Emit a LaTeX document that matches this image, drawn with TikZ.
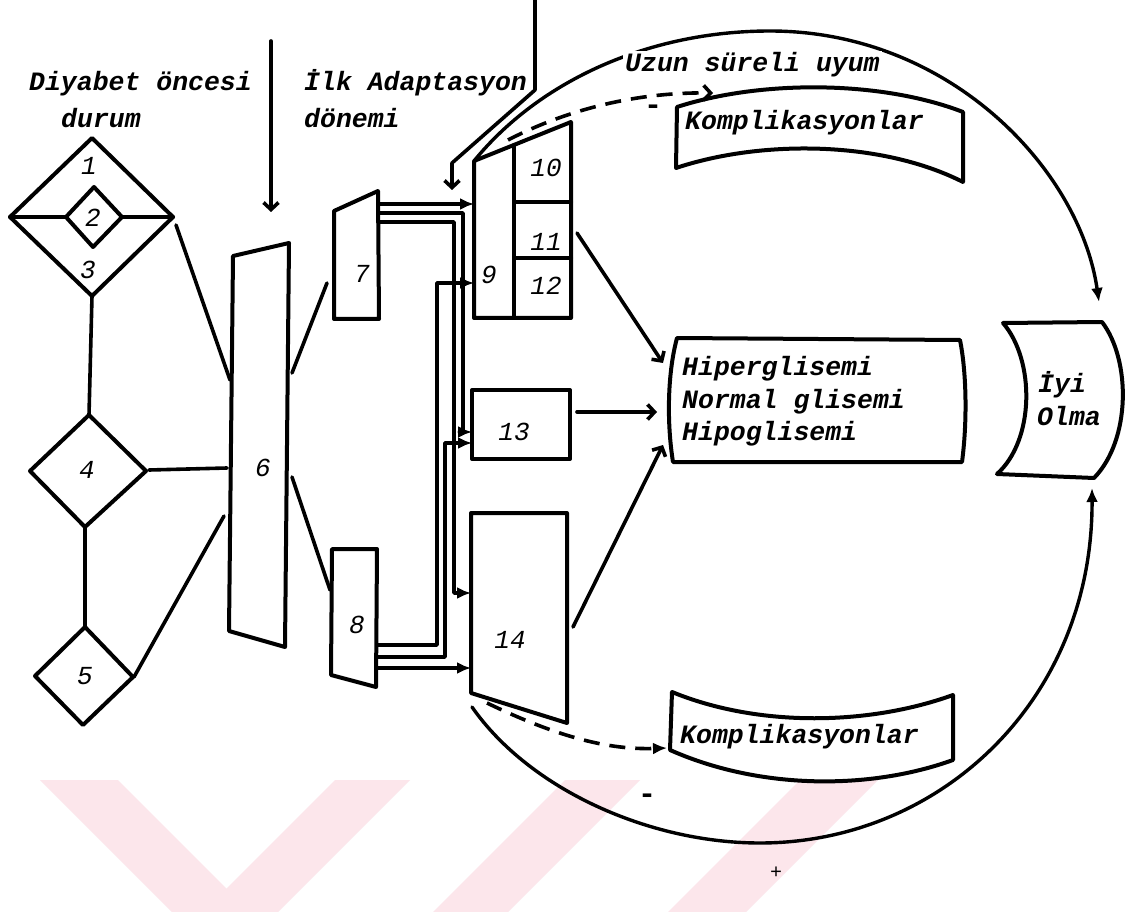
\documentclass[tikz,border=0pt]{standalone}
\usepackage{fontspec}
\setmainfont{Liberation Mono}
\usetikzlibrary{arrows.meta}
\definecolor{wm}{RGB}{252,230,235}
\begin{document}
\begin{tikzpicture}[x=1pt,y=-1pt,
  shp/.style={line width=4pt, line join=round, line cap=round},
  conn/.style={line width=3.6pt, line join=round, line cap=round},
  bigarc/.style={line width=3.4pt, line cap=round},
  fa/.style={-{Latex[length=14pt,width=12pt]}},
  oa/.style={-{Straight Barb[length=7pt,width=15pt]}},
  dsh/.style={line width=3.6pt, dash pattern=on 16pt off 10pt},
  lbl/.style={font=\fontsize{26.5}{33}\selectfont\bfseries\itshape, inner sep=0pt, anchor=base west},
  num/.style={font=\fontsize{26}{30}\selectfont\itshape, inner sep=0pt},
]
\useasboundingbox (0,0) rectangle (1136,912);
\fill[white] (0,0) rectangle (1136,912);
% watermark
\fill[wm] (40,780) -- (118,780) -- (250,912) -- (172,912) -- cycle;
\fill[wm] (335,780) -- (410,780) -- (278,912) -- (203,912) -- cycle;
\fill[wm] (565,780) -- (640,780) -- (508,912) -- (433,912) -- cycle;
\fill[wm] (800,780) -- (878,780) -- (746,912) -- (668,912) -- cycle;

% ---------- coordinates ----------
\coordinate (d1t) at (92,138); \coordinate (d1l) at (10,217);
\coordinate (d1r) at (173,217); \coordinate (d1b) at (92,296);
\coordinate (d2t) at (94,187); \coordinate (d2l) at (66,217);
\coordinate (d2r) at (122,217); \coordinate (d2b) at (93,247);
\coordinate (d4t) at (89,415); \coordinate (d4l) at (30,471);
\coordinate (d4r) at (146,471); \coordinate (d4b) at (85,527);
\coordinate (d5t) at (85,627); \coordinate (d5l) at (35,676);
\coordinate (d5r) at (133,677); \coordinate (d5b) at (83,725);

% ---------- diamonds ----------
\draw[shp] (d1t) -- (d1r) -- (d1b) -- (d1l) -- cycle;
\draw[shp] (d2t) -- (d2r) -- (d2b) -- (d2l) -- cycle;
\draw[shp] (d1l) -- (d2l) (d2r) -- (d1r);
\draw[shp] (d4t) -- (d4r) -- (d4b) -- (d4l) -- cycle;
\draw[shp] (d5t) -- (d5r) -- (d5b) -- (d5l) -- cycle;
\draw[conn] (d1b) -- (d4t);
\draw[conn] (d4b) -- (d5t);
\node[num] (n1) at (89,166) {1};
\node[num] (n2) at (93,218) {2};
\node[num] (n3) at (88,270) {3};
\node[num] (n4) at (87,470) {4};
\node[num] (n5) at (85,676) {5};

% ---------- box 6 ----------
\draw[shp] (233,256) -- (289,243) -- (285,647) -- (229,631) -- cycle;
\node[num] (n6) at (263,468) {6};
\coordinate (c1a) at (176,225); \coordinate (c1b) at (230,380);
\coordinate (c4a) at (149,470); \coordinate (c4b) at (227,468);
\coordinate (c5a) at (134,677); \coordinate (c5b) at (224,516);
\draw[conn] (c1a) -- (c1b);
\draw[conn] (c4a) -- (c4b);
\draw[conn] (c5a) -- (c5b);

% ---------- boxes 7, 8 ----------
\draw[shp] (334,211) -- (378,191) -- (379,319) -- (334,319) -- cycle;
\node[num] (n7) at (362,274) {7};
\draw[shp] (332,549) -- (377,549) -- (376,687) -- (331,675) -- cycle;
\node[num] (n8) at (357,625) {8};
\coordinate (c7a) at (292,373); \coordinate (c7b) at (327,283);
\coordinate (c8a) at (292,477); \coordinate (c8b) at (330,590);
\draw[conn] (c7a) -- (c7b);
\draw[conn] (c8a) -- (c8b);

% ---------- boxes 9-12 ----------
\coordinate (b9tl) at (474,161); \coordinate (b9tr) at (571,122);
\draw[shp] (b9tl) -- (b9tr) -- (571,318) -- (474,318) -- cycle;
\draw[shp] (514,145) -- (514,318);
\draw[shp] (514,202) -- (571,202);
\draw[shp] (514,258) -- (571,258);
\node[num] (n9) at (489,275) {9};
\node[num] (n10) at (546,168) {10};
\node[num] (n11) at (546,242) {11};
\node[num] (n12) at (546,286) {12};

% ---------- boxes 13, 14 ----------
\draw[shp] (472,390) rectangle (570,459);
\node[num] (n13) at (514,432) {13};
\draw[shp] (471,513) -- (567,513) -- (567,723) -- (471,693) -- cycle;
\node[num] (n14) at (510,640) {14};

% ---------- routing 7/8 -> 9/13/14 ----------
\coordinate (o7a) at (378,204); \coordinate (o7b) at (378,213); \coordinate (o7c) at (378,222);
\coordinate (o8a) at (377,645); \coordinate (o8b) at (377,657); \coordinate (o8c) at (377,668);
\coordinate (i9a) at (474,204); \coordinate (i9b) at (474,283);
\coordinate (i13a) at (472,432); \coordinate (i13b) at (472,443);
\coordinate (i14a) at (471,593); \coordinate (i14b) at (471,668);
\draw[conn, fa] (o7a) -- (i9a);
\draw[conn, fa] (o7b) -- ++(85,0) |- (i13a);
\draw[conn, fa] (o7c) -- ++(76,0) |- (i14a);
\draw[conn, fa] (o8a) -- ++(60,0) |- (i9b);
\draw[conn, fa] (o8b) -- ++(68,0) |- (i13b);
\draw[conn, fa] (o8c) -- (i14b);

% ---------- Hiperglisemi box ----------
\draw[shp] (677,338) -- (960,340) .. controls (967,375) and (967,425) .. (962,462)
  -- (673,462) .. controls (667,425) and (667,375) .. (677,338) -- cycle;
\node[lbl] (h1) at (682,375) {Hiperglisemi};
\node[lbl] (h2) at (682,408) {Normal glisemi};
\node[lbl] (h3) at (682,440) {Hipoglisemi};
\coordinate (o11) at (577,233); \coordinate (ih1) at (663,363);
\coordinate (o13) at (577,412); \coordinate (ih2) at (657,412);
\coordinate (o14) at (573,627); \coordinate (ih3) at (663,445);
\draw[conn, oa] (o11) -- (ih1);
\draw[conn, oa] (o13) -- (ih2);
\draw[conn, oa] (o14) -- (ih3);

% ---------- Iyi Olma ----------
\draw[shp] (1003,323) -- (1102,322) .. controls (1131,360) and (1131,440) .. (1094,478)
  -- (997,474) .. controls (1035,440) and (1035,360) .. (1003,323) -- cycle;
\node[lbl] (iy1) at (1038,392) {İyi};
\node[lbl] (iy2) at (1037,425) {Olma};

% ---------- Komplikasyonlar (top) ----------
\draw[shp] (677,107) .. controls (760,80) and (880,80) .. (963,112) -- (963,182)
  .. controls (880,140) and (760,140) .. (676,168) -- cycle;
\node[lbl] (k1) at (685,130) {Komplikasyonlar};

% ---------- Komplikasyonlar (bottom) ----------
\draw[shp] (672,692) .. controls (760,728) and (870,725) .. (953,695) -- (953,760)
  .. controls (870,790) and (760,790) .. (670,750) -- cycle;
\node[lbl] (k2) at (680,743) {Komplikasyonlar};

% ---------- top arrows and labels ----------
\node[lbl] (t1a) at (29,91) {Diyabet öncesi};
\node[lbl] (t1b) at (61,128) {durum};
\node[lbl] (t2a) at (304,91) {İlk Adaptasyon};
\node[lbl] (t2b) at (304,128) {dönemi};
\coordinate (a1s) at (271,41); \coordinate (a1e) at (271,212);
\draw[conn, oa] (a1s) -- (a1e);
\coordinate (a2s) at (535,0); \coordinate (a2e) at (452,190);
\draw[conn, oa] (a2s) -- (535,90) -- (452,163) -- (a2e);

% ---------- big arcs ----------
\coordinate (apk) at (770,31); \coordinate (ioT) at (1099,302);
\draw[bigarc, fa] (b9tl) .. controls (540,80) and (650,31) .. (apk)
  .. controls (950,31) and (1080,170) .. (ioT);
\node[lbl, fill=white, inner sep=2pt] (t3) at (623,72) {Uzun süreli uyum};
\coordinate (arcS) at (472,707); \coordinate (bpk) at (760,843); \coordinate (ioB) at (1092,488);
\draw[bigarc, fa] (arcS) .. controls (530,790) and (650,843) .. (bpk)
  .. controls (940,843) and (1093,700) .. (ioB);

% ---------- dashed arrows ----------
\coordinate (dsA) at (508,140); \coordinate (dsB) at (713,93);
\draw[dsh, oa] (dsA) .. controls (570,108) and (640,92) .. (dsB);
\coordinate (dbA) at (487,703); \coordinate (dbB) at (667,748);
\draw[dsh, fa] (dbA) .. controls (560,738) and (610,750) .. (dbB);

% ---------- signs ----------
\node[font=\fontsize{30}{30}\selectfont\bfseries, inner sep=0pt] (m1) at (653,110) {-};
\node[font=\fontsize{30}{30}\selectfont\bfseries, inner sep=0pt] (m2) at (647,799) {-};
\node[font=\fontsize{20}{20}\selectfont, inner sep=0pt] (p1) at (776,873) {+};
\end{tikzpicture}
\end{document}
